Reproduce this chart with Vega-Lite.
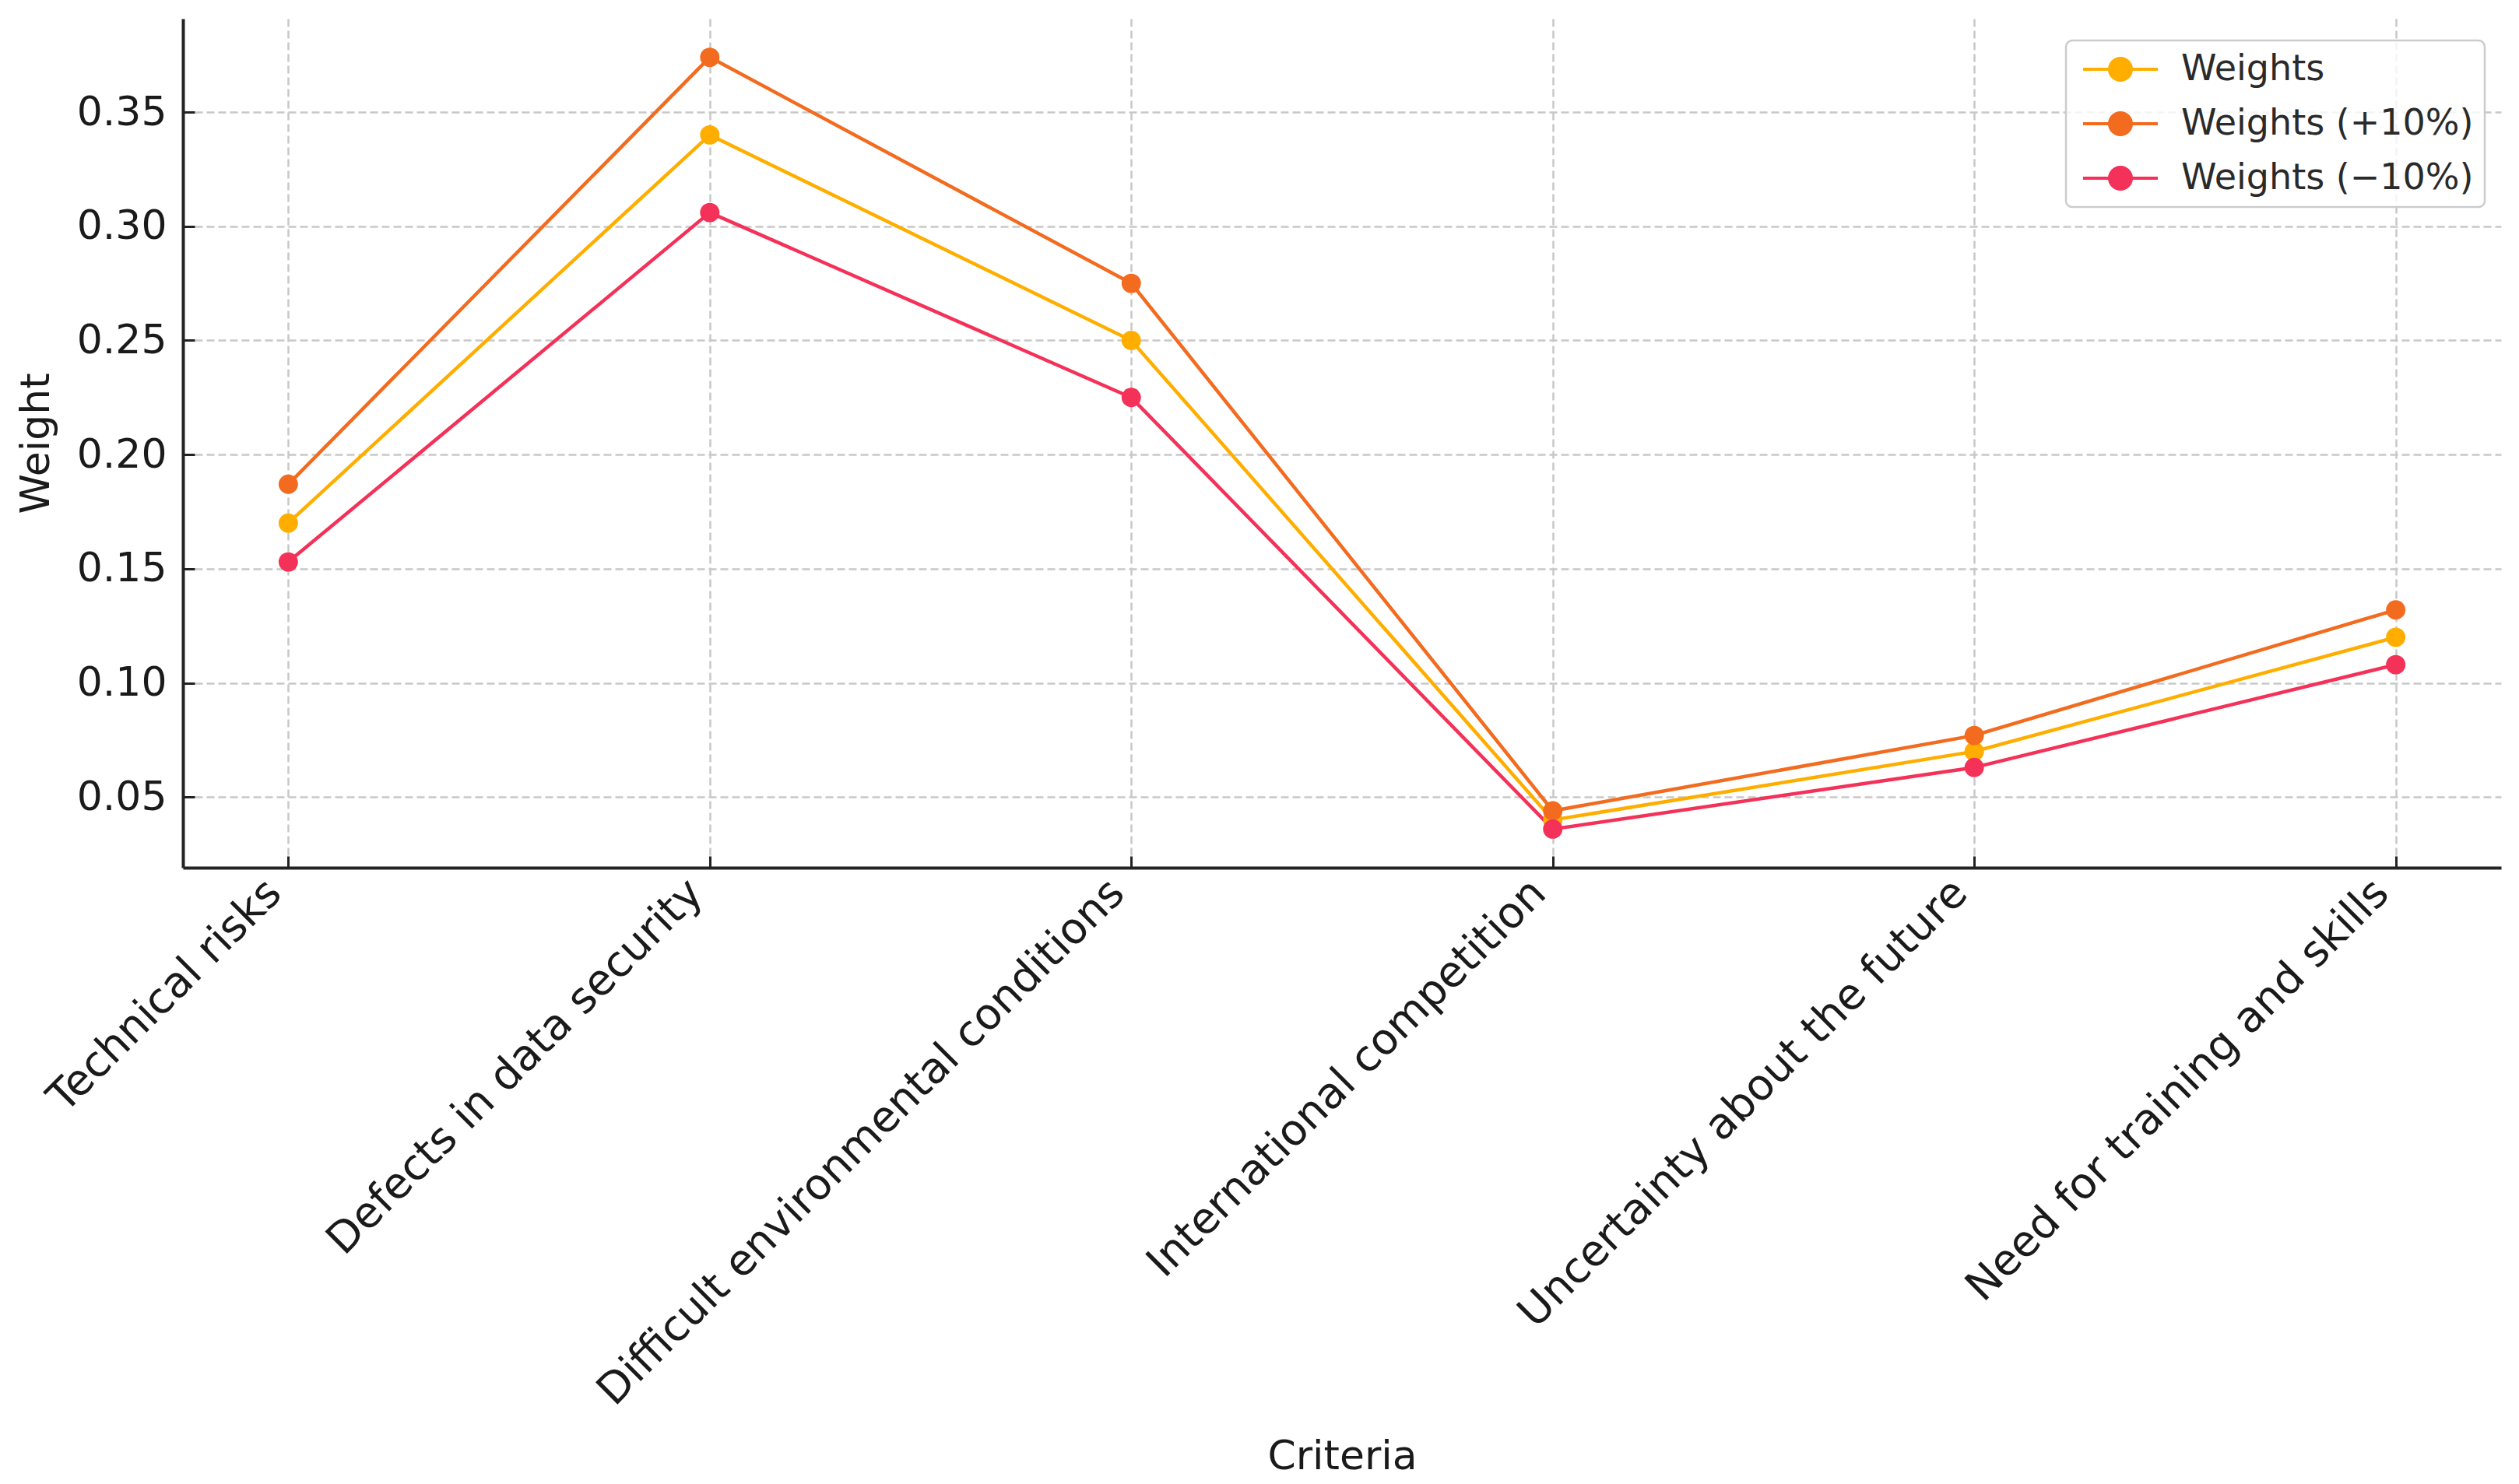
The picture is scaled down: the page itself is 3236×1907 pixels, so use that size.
{
  "$schema": "https://vega.github.io/schema/vega-lite/v6.json",
  "width": 2978,
  "height": 1091,
  "autosize": {"type": "none"},
  "padding": {"left": 235, "top": 24, "right": 23, "bottom": 792},
  "background": "white",
  "config": {
    "font": "DejaVu Sans",
    "view": {"stroke": null},
    "axis": {
      "domainColor": "#222222",
      "domainWidth": 4,
      "tickColor": "#222222",
      "tickWidth": 3,
      "tickSize": -15,
      "labelFont": "DejaVu Sans",
      "labelFontSize": 52,
      "labelColor": "#1a1a1a",
      "titleFont": "DejaVu Sans",
      "titleFontSize": 52,
      "titleFontWeight": "normal",
      "titleColor": "#1a1a1a",
      "grid": true,
      "gridColor": "#c8c8c8",
      "gridWidth": 2.5,
      "gridDash": [10, 5],
      "labelLimit": 2000
    }
  },
  "data": {
    "values": [
      {"criterion": "Technical risks", "series": "Weights", "weight": 0.17},
      {"criterion": "Defects in data security", "series": "Weights", "weight": 0.34},
      {"criterion": "Difficult environmental conditions", "series": "Weights", "weight": 0.25},
      {"criterion": "International competition", "series": "Weights", "weight": 0.04},
      {"criterion": "Uncertainty about the future", "series": "Weights", "weight": 0.07},
      {"criterion": "Need for training and skills", "series": "Weights", "weight": 0.12},
      {"criterion": "Technical risks", "series": "Weights (+10%)", "weight": 0.187},
      {"criterion": "Defects in data security", "series": "Weights (+10%)", "weight": 0.374},
      {"criterion": "Difficult environmental conditions", "series": "Weights (+10%)", "weight": 0.275},
      {"criterion": "International competition", "series": "Weights (+10%)", "weight": 0.044},
      {"criterion": "Uncertainty about the future", "series": "Weights (+10%)", "weight": 0.077},
      {"criterion": "Need for training and skills", "series": "Weights (+10%)", "weight": 0.132},
      {"criterion": "Technical risks", "series": "Weights (−10%)", "weight": 0.153},
      {"criterion": "Defects in data security", "series": "Weights (−10%)", "weight": 0.306},
      {"criterion": "Difficult environmental conditions", "series": "Weights (−10%)", "weight": 0.225},
      {"criterion": "International competition", "series": "Weights (−10%)", "weight": 0.036},
      {"criterion": "Uncertainty about the future", "series": "Weights (−10%)", "weight": 0.063},
      {"criterion": "Need for training and skills", "series": "Weights (−10%)", "weight": 0.108}
    ]
  },
  "mark": {"type": "line", "strokeWidth": 4.5, "point": {"filled": true, "size": 620, "opacity": 1}},
  "encoding": {
    "x": {
      "field": "criterion",
      "type": "nominal",
      "sort": ["Technical risks", "Defects in data security", "Difficult environmental conditions", "International competition", "Uncertainty about the future", "Need for training and skills"],
      "scale": {"type": "point", "padding": 0.25},
      "axis": {
        "title": "Criteria",
        "labelFontSize": 55,
        "labelAngle": 315,
        "labelAlign": "right",
        "labelBaseline": "top",
        "labelOffset": -37,
        "labelPadding": 20,
        "titleBaseline": "alphabetic",
        "titleY": 772
      }
    },
    "y": {
      "field": "weight",
      "type": "quantitative",
      "scale": {"domain": [0.0191, 0.3909], "nice": false, "zero": false},
      "axis": {
        "title": "Weight",
        "values": [0.05, 0.1, 0.15, 0.2, 0.25, 0.3, 0.35],
        "format": ".2f",
        "labelPadding": 36,
        "titlePadding": 25
      }
    },
    "color": {
      "field": "series",
      "type": "nominal",
      "scale": {
        "domain": ["Weights", "Weights (+10%)", "Weights (−10%)"],
        "range": ["#ffae00", "#f26b1f", "#f43158"]
      },
      "legend": {
        "title": null,
        "orient": "none",
        "legendX": 2419,
        "legendY": 28,
        "padding": 14,
        "rowPadding": 24,
        "symbolType": "M-3,0L3,0M-0.875,0A0.875,0.875,0,1,1,0.875,0A0.875,0.875,0,1,1,-0.875,0Z",
        "symbolSize": 1024,
        "symbolStrokeWidth": 4,
        "symbolOffset": 33,
        "labelOffset": 55,
        "labelFont": "DejaVu Sans",
        "labelFontSize": 46,
        "labelColor": "#2a2a2a",
        "labelLimit": 1000,
        "strokeColor": "#cccccc",
        "cornerRadius": 8,
        "fillColor": "rgba(255,255,255,0.8)",
        "encode": {
          "legend": {
            "update": {
              "strokeWidth": {"value": 2.5}
            }
          },
          "symbols": {
            "update": {
              "fill": {"scale": "color", "field": "value"},
              "stroke": {"scale": "color", "field": "value"},
              "fillOpacity": {"value": 1},
              "opacity": {"value": 1}
            }
          }
        }
      }
    }
  }
}
